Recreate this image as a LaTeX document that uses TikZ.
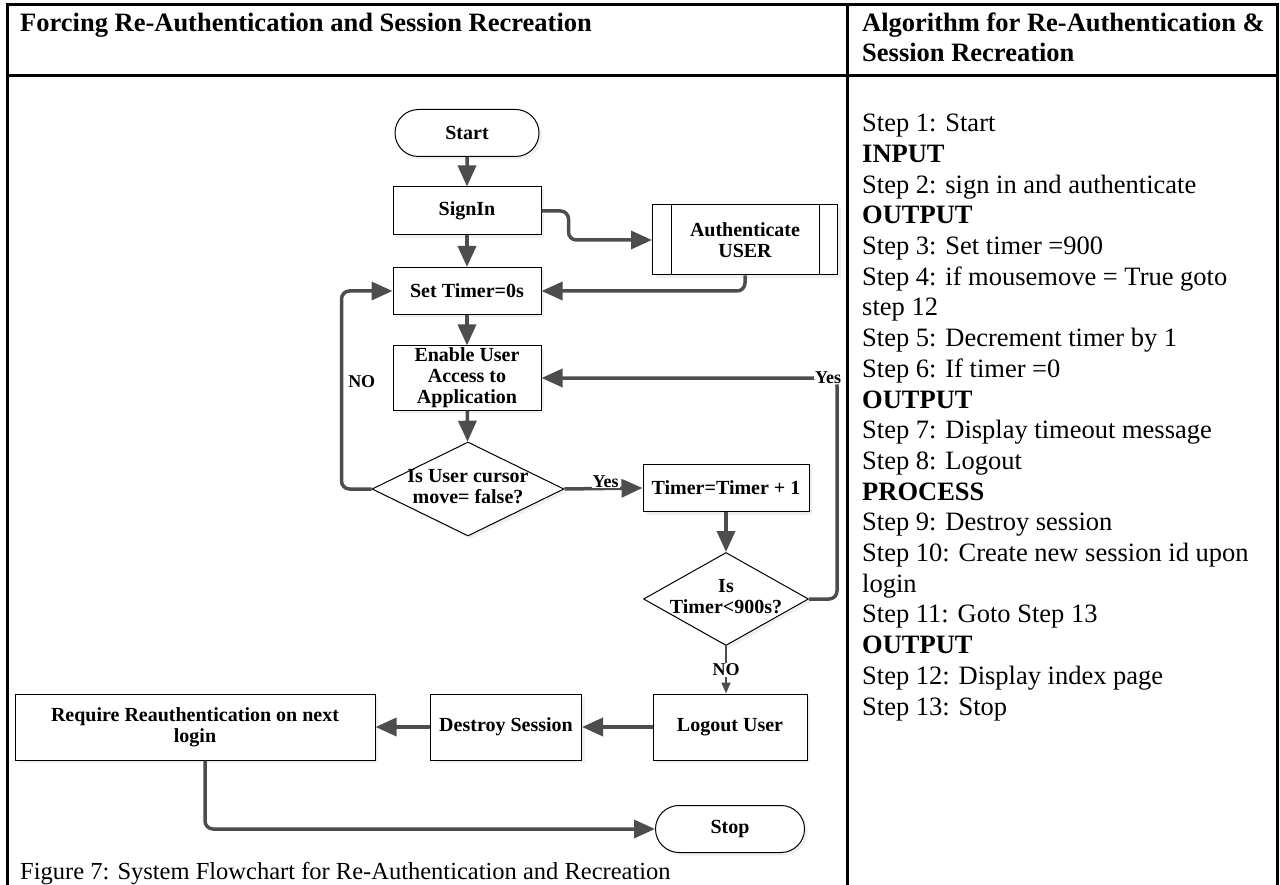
\documentclass[tikz,border=0pt]{standalone}
\usepackage{fontspec}
\setmainfont{Liberation Serif}
\usetikzlibrary{shapes.geometric,shapes.misc,arrows.meta,shadows}
\definecolor{flowgray}{HTML}{4D4D4D}
\newcommand{\dtext}[1]{\raisebox{-5pt}[0pt][0pt]{\makebox[0pt]{\begin{tabular}{@{}c@{}}#1\end{tabular}}}}
\begin{document}
\begin{tikzpicture}[x=1pt,y=-1pt,
    box/.style={draw, line width=1pt, fill=white, minimum width=148pt, minimum height=48pt, align=center, inner sep=2pt,
        font=\fontsize{20}{21}\selectfont\bfseries, drop shadow={shadow xshift=3pt, shadow yshift=-3pt, opacity=0.12}},
    term/.style={box, rounded rectangle, minimum height=47pt},
    choice/.style={box, diamond, inner sep=0pt, minimum width=192pt, minimum height=94pt},
    flow/.style={draw=flowgray, line width=3.5pt, -{Triangle[length=21pt,width=18pt]}},
    thinflow/.style={draw=flowgray, line width=2pt, -{Triangle[length=11pt,width=9pt]}},
    lbl/.style={font=\fontsize{18}{20}\selectfont\bfseries, inner sep=1pt},
    rule/.style={line width=3pt},
    cell/.style={anchor=base west, align=left, inner sep=0pt}]
        \useasboundingbox (0,0) rectangle (1280,885);

        \draw[rule] (7,890) -- (7,5) -- (1277,5) -- (1277,890);
        \draw[rule] (7,76) -- (1277,76);
        \draw[rule] (847,5) -- (847,890);

        \node[cell, font=\fontsize{26.5}{30}\selectfont\bfseries] (lefthead) at (20,32) {Forcing Re-Authentication and Session Recreation};
        \node[cell, font=\fontsize{26.5}{30}\selectfont\bfseries] (righthead) at (862,62) {Algorithm for Re-Authentication \&\\Session Recreation};
        \node[cell, font=\fontsize{26.5}{30.7}\selectfont] (steps) at (862,715) {Step 1: Start\\\textbf{INPUT}\\Step 2: sign in and authenticate\\\textbf{OUTPUT}\\Step 3: Set timer =900\\Step 4: if mousemove = True goto\\step 12\\Step 5: Decrement timer by 1\\Step 6: If timer =0\\\textbf{OUTPUT}\\Step 7: Display timeout message\\Step 8: Logout\\\textbf{PROCESS}\\Step 9: Destroy session\\Step 10: Create new session id upon\\login\\Step 11: Goto Step 13\\\textbf{OUTPUT}\\Step 12: Display index page\\Step 13: Stop};
        \node[cell, font=\fontsize{24.5}{28}\selectfont] (caption) at (20,879) {Figure 7: System Flowchart for Re-Authentication and Recreation};

        \node[term] (start) at (467,133) {Start};
        \node[box] (signin) at (467,211) {SignIn};
        \node[box, minimum width=185pt, minimum height=70pt] (auth) at (745,240) {Authenticate\\USER};
        \node[box, minimum height=47pt] (settimer) at (467,291) {Set Timer=0s};
        \node[box, minimum height=63pt] (enable) at (467,378) {Enable User\\Access to\\Application};
        \node[choice] (cursor) at (468,489) {\dtext{Is User cursor\\move= false?}};
        \node[box, minimum width=166pt, minimum height=47pt] (incr) at (726,488) {Timer=Timer + 1};
        \node[choice, minimum width=165pt, minimum height=93pt] (limit) at (726,599) {\dtext{Is\\Timer<900s?}};
        \node[box, minimum width=154pt, minimum height=66pt] (logout) at (730,727) {Logout User};
        \node[box, minimum width=151pt, minimum height=66pt] (destroy) at (506,727) {Destroy Session};
        \node[box, minimum width=360pt, minimum height=66pt] (reauth) at (195,727) {Require Reauthentication on next\\login};
        \node[term, minimum width=153pt] (stop) at (730,829) {Stop};

        \draw ([xshift=19pt]auth.north west) -- ([xshift=19pt]auth.south west);
        \draw ([xshift=-19pt]auth.north east) -- ([xshift=-19pt]auth.south east);

        \draw[flow] (start) -- (signin);
        \draw[flow] (signin) -- (settimer);
        \draw[flow, rounded corners=8pt] (signin.east) -- ++(27,0) |- (auth.west);
        \draw[flow, rounded corners=8pt] (auth.south) |- (settimer.east);
        \draw[flow] (settimer) -- (enable);
        \draw[flow] (enable) -- (cursor);
        \draw[flow, rounded corners=8pt] (cursor.west) -- ++(-30,0) |- node[lbl, pos=0.27, anchor=west, xshift=4pt] {NO} (settimer.west);
        \draw[flow] (cursor.east) -- node[lbl, fill=white, yshift=7pt, xshift=2pt] {Yes} (incr.west);
        \draw[flow] (incr) -- (limit);
        \draw[flow, rounded corners=8pt] (limit.east) -- ++(28,0) |- node[lbl, fill=white, pos=0.5, xshift=-9pt] {Yes} (enable.east);
        \draw[thinflow] (limit.south) -- node[lbl, fill=white, pos=0.5] {NO} (limit.south |- logout.north);
        \draw[flow] (logout) -- (destroy);
        \draw[flow] (destroy) -- (reauth);
        \draw[flow, rounded corners=8pt] ([xshift=10pt]reauth.south) |- (stop.west);
\end{tikzpicture}
\end{document}
